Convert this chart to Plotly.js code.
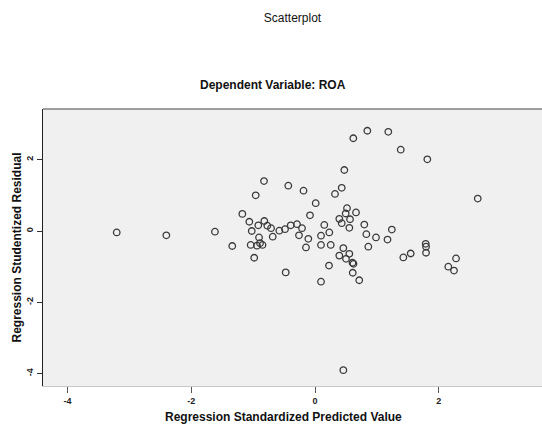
<!DOCTYPE html>
<html>
<head>
<meta charset="utf-8">
<script src="https://cdn.plot.ly/plotly-3.0.1.min.js"></script>
<style>html,body{margin:0;padding:0;background:#fff;}#chart{width:542px;height:431px;}</style>
</head>
<body>
<div id="chart"></div>
<script>
// Regression Standardized Predicted Value
var predicted = [
  -3.206, -2.404, -1.618, -1.338, -0.983, -1.040, -0.938, -0.889, -0.849, -0.905,
  -1.023, -1.062, -1.175, -0.959, -0.825, -0.432, -0.186, -0.917, -0.820, -0.771,
  -0.711, -0.684, -0.577, -0.485, -0.393, -0.291, -0.259, -0.210, -0.146, -0.108,
  -0.081, 0.011, -0.474, 0.097, 0.150, 0.231, 0.097, 0.254, 0.226, 0.097,
  0.323, 0.432, 0.474, 0.619, 0.846, 1.185, 1.386, 1.816, 2.631, 0.517,
  0.496, 0.663, 0.393, 0.432, 0.566, 0.555, 0.797, 0.830, 0.986, 0.862,
  1.242, 1.172, 1.428, 1.547, 1.790, 1.795, 1.795, 2.280, 2.155, 2.247,
  0.458, 0.393, 0.501, 0.555, 0.606, 0.622, 0.610, 0.715, 0.458
];
// Regression Studentized Residual
var residual = [
  -0.04, -0.12, -0.02, -0.42, -0.75, -0.39, -0.41, -0.34, -0.39, -0.18,
  0.00, 0.26, 0.48, 1.00, 1.40, 1.27, 1.13, 0.16, 0.28, 0.15,
  0.08, -0.16, 0.01, 0.05, 0.16, 0.19, -0.12, 0.08, -0.46, -0.22,
  0.44, 0.78, -1.16, -0.13, 0.17, -0.04, -0.39, -0.39, -0.97, -1.42,
  1.04, 1.21, 1.71, 2.60, 2.81, 2.78, 2.28, 2.01, 0.91, 0.64,
  0.49, 0.52, 0.34, 0.22, 0.33, 0.09, 0.18, -0.09, -0.18, -0.44,
  0.04, -0.24, -0.74, -0.63, -0.36, -0.44, -0.61, -0.77, -1.00, -1.11,
  -0.48, -0.69, -0.78, -0.64, -0.89, -0.92, -1.17, -1.38, -3.90
];
var xTicks = [-4, -2, 0, 2];
var yTicks = [2, 0, -2, -4];

var trace = {
  x: predicted,
  y: residual,
  type: 'scatter',
  mode: 'markers',
  marker: {symbol: 'circle-open', size: 6.5, color: '#3a3a3a', line: {width: 1.3, color: '#3a3a3a'}},
  hoverinfo: 'x+y',
  showlegend: false
};

var tickFont = {family: 'Liberation Sans, Arial, sans-serif', size: 9, color: '#222', weight: 'bold'};

var layout = {
  width: 542,
  height: 431,
  margin: {l: 43, r: 0, t: 109, b: 45, pad: 0},
  paper_bgcolor: '#ffffff',
  plot_bgcolor: '#f0f0f0',
  showlegend: false,
  title: {
    text: 'Scatterplot',
    font: {family: 'Liberation Sans, Arial, sans-serif', size: 12, color: '#111'},
    x: 0.5, xref: 'paper', xanchor: 'center',
    y: 1 - 18 / 431, yref: 'container', yanchor: 'middle'
  },
  xaxis: {
    range: [-4.398, 3.670],
    tickvals: xTicks,
    ticktext: xTicks.map(String),
    ticks: 'outside',
    ticklen: 6,
    tickwidth: 1,
    tickcolor: '#555',
    tickfont: tickFont,
    showgrid: false,
    zeroline: false,
    showline: true,
    linecolor: '#c8c8c8',
    linewidth: 1,
    fixedrange: true
  },
  yaxis: {
    range: [-4.345, 3.420],
    tickvals: yTicks,
    ticktext: yTicks.map(String),
    tickangle: -90,
    ticks: 'outside',
    ticklen: 5,
    tickwidth: 1,
    tickcolor: '#333',
    tickfont: tickFont,
    showgrid: false,
    zeroline: false,
    showline: true,
    linecolor: '#222',
    linewidth: 1.3,
    title: {
      text: 'Regression Studentized Residual',
      font: {family: 'Liberation Sans, Arial, sans-serif', size: 12, color: '#111', weight: 'bold'},
      standoff: 1
    },
    fixedrange: true
  },
  shapes: [
    {type: 'line', xref: 'paper', yref: 'paper', x0: 0, x1: 1, y0: 1, y1: 1,
     line: {color: '#808080', width: 1.3}}
  ],
  annotations: [
    {
      text: 'Dependent Variable: ROA',
      xref: 'paper', yref: 'paper',
      x: (273 - 43) / 499, y: 1 + (109 - 85) / 277,
      xanchor: 'center', yanchor: 'middle', showarrow: false,
      font: {family: 'Liberation Sans, Arial, sans-serif', size: 12, color: '#111', weight: 'bold'}
    },
    {
      text: 'Regression Standardized Predicted Value',
      xref: 'paper', yref: 'paper',
      x: (283 - 43) / 499, y: -(417 - 386) / 277,
      xanchor: 'center', yanchor: 'middle', showarrow: false,
      font: {family: 'Liberation Sans, Arial, sans-serif', size: 12, color: '#111', weight: 'bold'}
    }
  ]
};

Plotly.newPlot('chart', [trace], layout, {displayModeBar: false, staticPlot: true});
</script>
</body>
</html>
